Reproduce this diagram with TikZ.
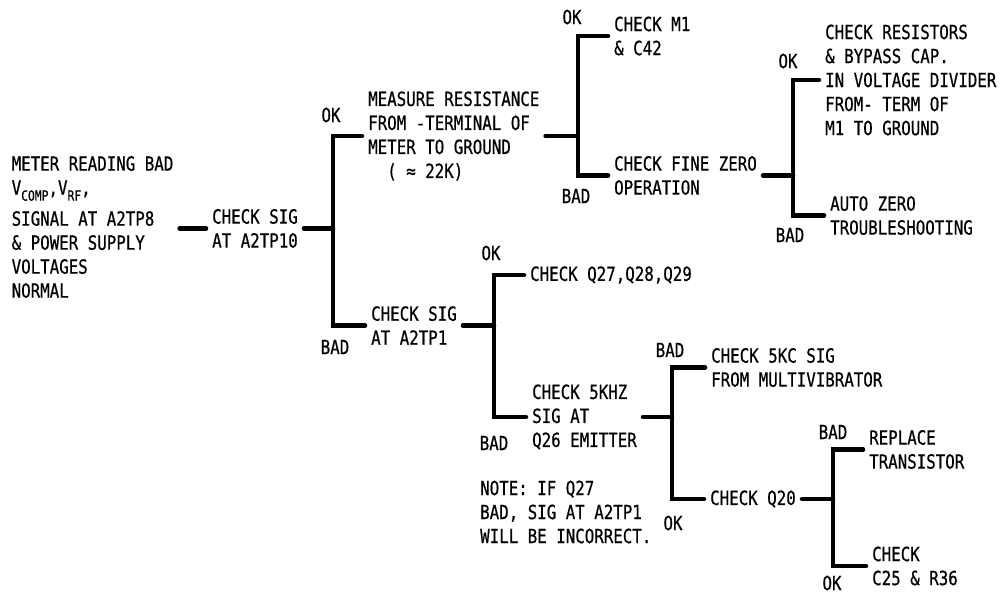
\documentclass[tikz,border=0pt]{standalone}
\usepackage{fontspec}
\usetikzlibrary{positioning}
\newfontfamily\lettering[FakeStretch=0.81, FakeBold=0.6]{DejaVu Sans Mono}
\newcommand\lowsub[1]{\raisebox{-6pt}{\fontsize{14}{14}\selectfont #1}}

\begin{document}
\begin{tikzpicture}[x=1pt, y=-1pt,
    entry/.style={inner xsep=6pt, inner ysep=0pt, align=left,
                  font=\lettering\fontsize{19.5}{24}\selectfont},
    verdict/.style={entry, inner xsep=0pt},
    bar/.style={line width=4.5pt, line cap=round}
  ]
    \useasboundingbox (0,0) rectangle (1001,595);

    \node[entry, anchor=north west] (meter) at (5.5,156) {METER READING BAD\\V\lowsub{COMP},V\lowsub{RF},\\[7pt]SIGNAL AT A2TP8\\\& POWER SUPPLY\\VOLTAGES\\NORMAL};
    \node[entry, anchor=west] (sigten) at (206,228.5) {CHECK SIG\\AT A2TP10};

    \node[entry, anchor=west] (measure) at (362,136) {MEASURE RESISTANCE\\FROM -TERMINAL OF\\METER TO GROUND\\~~( ≈ 22K)};
    \node[entry, anchor=west] (mone) at (608,36) {CHECK M1\\\& C42};
    \node[entry, anchor=west] (finezero) at (608,175.5) {CHECK FINE ZERO\\OPERATION};
    \node[entry, anchor=west] (divider) at (819,80) {CHECK RESISTORS\\\& BYPASS CAP.\\IN VOLTAGE DIVIDER\\FROM- TERM OF\\M1 TO GROUND};
    \node[entry, anchor=west] (autozero) at (824,215.5) {AUTO ZERO\\TROUBLESHOOTING};

    \node[entry, anchor=west] (sigone) at (365,325.5) {CHECK SIG\\AT A2TP1};
    \node[entry, anchor=west] (qset) at (524,275) {CHECK Q27,Q28,Q29};
    \node[entry, anchor=west] (fivekhz) at (526,417) {CHECK 5KHZ\\SIG AT\\Q26 EMITTER};
    \node[entry, anchor=west] (multivib) at (705,367.5) {CHECK 5KC SIG\\FROM MULTIVIBRATOR};
    \node[entry, anchor=west] (qtwenty) at (704,499) {CHECK Q20};
    \node[entry, anchor=west] (replace) at (863,449.5) {REPLACE\\TRANSISTOR};
    \node[entry, anchor=west] (caps) at (866,566) {CHECK\\C25 \& R36};
    \node[entry, anchor=west] (note) at (474,512) {NOTE: IF Q27\\BAD, SIG AT A2TP1\\WILL BE INCORRECT.};

    \node[verdict] (ok1) at (331,115) {OK};
    \node[verdict] (bad1) at (335,347) {BAD};
    \node[verdict] (ok2) at (572,17) {OK};
    \node[verdict] (bad2) at (576,196) {BAD};
    \node[verdict] (ok3) at (788,61) {OK};
    \node[verdict] (bad3) at (790,235) {BAD};
    \node[verdict] (ok4) at (491,253) {OK};
    \node[verdict] (bad4) at (494,443) {BAD};
    \node[verdict] (bad5) at (670,350) {BAD};
    \node[verdict] (ok5) at (673,523) {OK};
    \node[verdict] (bad6) at (833,432) {BAD};
    \node[verdict] (ok6) at (832,583) {OK};

    \coordinate (sp1) at (333,230);
    \coordinate (sp2) at (578,134);
    \coordinate (sp3) at (793,176);
    \coordinate (sp4) at (494,326);
    \coordinate (sp5) at (672,419);
    \coordinate (sp6) at (833,499);

    \draw[bar] (meter.east |- sigten.west) -- (sigten.west);
    \draw[bar] (sigten.east) -- (sigten.east -| sp1);
    \draw[bar] (measure.west) -| (sp1) |- (sigone.west);
    \draw[bar] (measure.east) -- (measure.east -| sp2);
    \draw[bar] (mone.west) -| (sp2) |- (finezero.west);
    \draw[bar] (finezero.east) -- (finezero.east -| sp3);
    \draw[bar] (divider.west) -| (sp3) |- (autozero.west);
    \draw[bar] (sigone.east) -- (sigone.east -| sp4);
    \draw[bar] (qset.west) -| (sp4) |- (fivekhz.west);
    \draw[bar] (fivekhz.east) -- (fivekhz.east -| sp5);
    \draw[bar] (multivib.west) -| (sp5) |- (qtwenty.west);
    \draw[bar] (qtwenty.east) -- (qtwenty.east -| sp6);
    \draw[bar] (replace.west) -| (sp6) |- (caps.west);
  \end{tikzpicture}
\end{document}
